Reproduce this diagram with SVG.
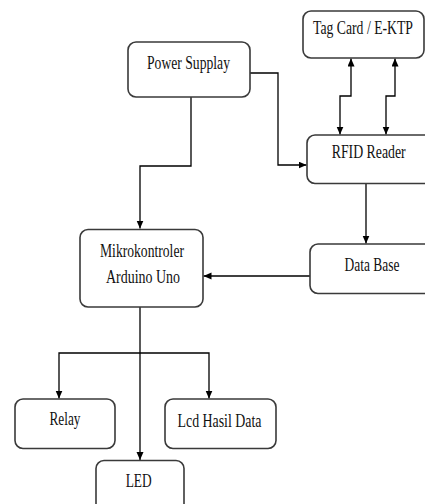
<svg xmlns="http://www.w3.org/2000/svg" width="425" height="504" viewBox="0 0 425 504">
<defs>
<marker id="arr" markerUnits="userSpaceOnUse" markerWidth="9" markerHeight="8" refX="8" refY="3.5" orient="auto-start-reverse">
<path d="M0,0 L8,3.5 L0,7 z" fill="#000"/>
</marker>
<style>
.box{fill:#fff;stroke:#3a3a3a;stroke-width:1.6}
.lbl{font-family:"Liberation Serif","Times New Roman",serif;font-size:19px;fill:#111;text-anchor:middle}
.ln{fill:none;stroke:#000;stroke-width:1.3}
</style>
</defs>
<rect width="425" height="504" fill="#fff"/>
<g id="connectors">
<path class="ln" d="M191,97 V166 H140 V228.5" marker-end="url(#arr)"/>
<path class="ln" d="M250,73 H278 V165 H306.5" marker-end="url(#arr)"/>
<path class="ln" d="M351,58.5 V96 H340 V134.5" marker-start="url(#arr)" marker-end="url(#arr)"/>
<path class="ln" d="M395,58.5 V96 H386 V134.5" marker-start="url(#arr)" marker-end="url(#arr)"/>
<path class="ln" d="M366,184 V243.5" marker-end="url(#arr)"/>
<path class="ln" d="M310,276 H203.5" marker-end="url(#arr)"/>
<path class="ln" d="M140,307 V460" marker-end="url(#arr)"/>
<path class="ln" d="M59,398.5 V353 H209 V398.5" marker-start="url(#arr)" marker-end="url(#arr)"/>
</g>
<g id="tag">
<rect class="box" x="303" y="11" width="121" height="47" rx="8"/>
<text class="lbl" x="363" y="33.5" textLength="100" lengthAdjust="spacingAndGlyphs">Tag Card / E-KTP</text>
</g>
<g id="power">
<rect class="box" x="128" y="42" width="122" height="55" rx="8"/>
<text class="lbl" x="188.5" y="69" textLength="83" lengthAdjust="spacingAndGlyphs">Power Supplay</text>
</g>
<g id="rfid">
<rect class="box" x="307" y="135" width="125" height="48.5" rx="8"/>
<text class="lbl" x="368.7" y="158.3" textLength="74" lengthAdjust="spacingAndGlyphs">RFID Reader</text>
</g>
<g id="database">
<rect class="box" x="310" y="244" width="125" height="49.5" rx="8"/>
<text class="lbl" x="372" y="270.7" textLength="55" lengthAdjust="spacingAndGlyphs">Data Base</text>
</g>
<g id="mikro">
<rect class="box" x="80" y="229.5" width="123" height="77.5" rx="8"/>
<text class="lbl" x="142" y="256.7" textLength="84" lengthAdjust="spacingAndGlyphs">Mikrokontroler</text>
<text class="lbl" x="143" y="283.3" textLength="74" lengthAdjust="spacingAndGlyphs">Arduino Uno</text>
</g>
<g id="relay">
<rect class="box" x="15" y="399" width="100" height="49.5" rx="8"/>
<text class="lbl" x="65" y="425" textLength="31" lengthAdjust="spacingAndGlyphs">Relay</text>
</g>
<g id="lcd">
<rect class="box" x="165" y="399" width="111" height="49.5" rx="8"/>
<text class="lbl" x="219.5" y="426.7" textLength="84" lengthAdjust="spacingAndGlyphs">Lcd Hasil Data</text>
</g>
<g id="led">
<rect class="box" x="96" y="460.5" width="88" height="60" rx="8"/>
<text class="lbl" x="138.7" y="486.7" textLength="26" lengthAdjust="spacingAndGlyphs">LED</text>
</g>
</svg>
